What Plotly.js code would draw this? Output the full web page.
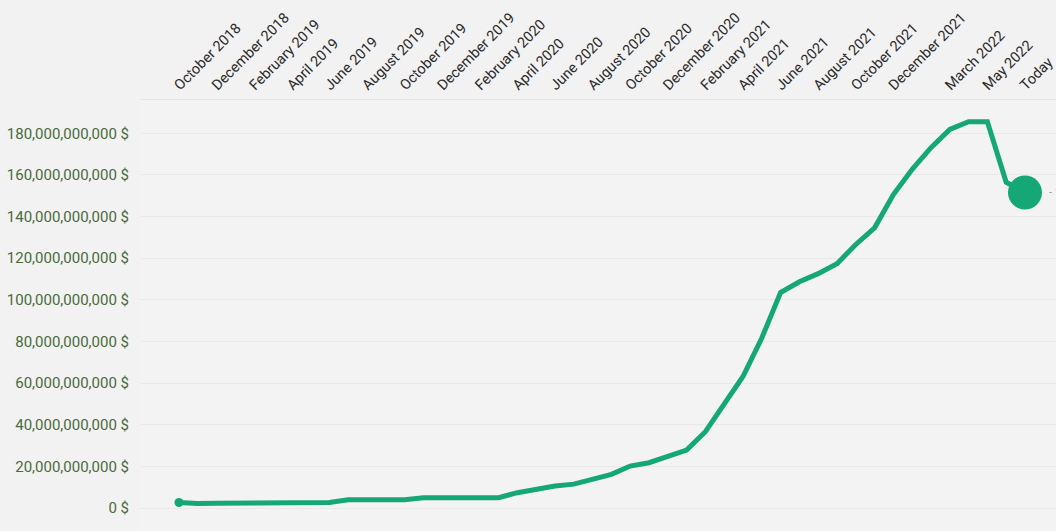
<!DOCTYPE html>
<html>
<head>
<meta charset="utf-8">
<script src="https://cdn.plot.ly/plotly-3.0.1.min.js"></script>
<style>
html,body{margin:0;padding:0;background:#f2f2f2;}
#chart{width:1056px;height:531px;}
</style>
</head>
<body>
<div id="chart"></div>
<script>
const months = [
  "October 2018","November 2018","December 2018",
  "January 2019","February 2019","March 2019","April 2019","May 2019","June 2019",
  "July 2019","August 2019","September 2019","October 2019","November 2019","December 2019",
  "January 2020","February 2020","March 2020","April 2020","May 2020","June 2020",
  "July 2020","August 2020","September 2020","October 2020","November 2020","December 2020",
  "January 2021","February 2021","March 2021","April 2021","May 2021","June 2021",
  "July 2021","August 2021","September 2021","October 2021","November 2021","December 2021",
  "January 2022","February 2022","March 2022","April 2022","May 2022","June 2022",
  "Today"
];
// values in billions of dollars
const valuesBn = [
  2.7, 2.2, 2.3,
  2.4, 2.5, 2.4, 2.5, 2.6, 2.7,
  4.0, 4.1, 4.0, 4.0, 5.0, 4.9,
  5.0, 5.0, 5.0, 7.4, 9.3, 10.6,
  11.5, 13.8, 16.2, 20.2, 21.8, 24.8,
  27.9, 36.7, 49.6, 63.2, 81.7, 103.5,
  108.7, 112.6, 117.4, 126.6, 134.6, 150.6,
  162.7, 173.1, 181.9, 185.6, 185.6, 156.5,
  151.6
];
const tickLabels = [
  "October 2018","December 2018","February 2019","April 2019","June 2019",
  "August 2019","October 2019","December 2019","February 2020","April 2020",
  "June 2020","August 2020","October 2020","December 2020","February 2021",
  "April 2021","June 2021","August 2021","October 2021","December 2021",
  "March 2022","May 2022","Today"
];

const values = valuesBn.map(v => v * 1e9);
const n = values.length;
const markerSizes = values.map((v, i) => i === 0 ? 9 : (i === n - 1 ? 34 : 0));

const lineColor = "#15a776";

const trace = {
  x: months,
  y: values,
  type: "scatter",
  mode: "lines+markers",
  line: {color: lineColor, width: 5, shape: "linear"},
  marker: {color: lineColor, size: markerSizes, opacity: 1, line: {width: 0}},
  opacity: 1,
  hoverinfo: "x+y",
  cliponaxis: false
};

const layout = {
  width: 1056,
  height: 531,
  margin: {l: 141, r: 0, t: 100, b: 0},
  paper_bgcolor: "#f2f2f2",
  plot_bgcolor: "#f3f3f3",
  showlegend: false,
  font: {family: "Roboto, 'Open Sans', sans-serif", size: 15, color: "#333"},
  xaxis: {
    type: "category",
    side: "top",
    range: [-2.02, 46.65],
    tickmode: "array",
    tickvals: tickLabels,
    ticktext: tickLabels,
    tickangle: -45,
    ticklabelshift: -4,
    tickfont: {family: "Roboto, sans-serif", size: 14.5, color: "#2b2b2b"},
    showgrid: false,
    zeroline: false,
    showline: true,
    linecolor: "#e6e6e6",
    linewidth: 1,
    ticks: "",
    automargin: false
  },
  yaxis: {
    range: [-11e9, 196e9],
    dtick: 20e9,
    tick0: 0,
    tickformat: ",d",
    ticksuffix: " $",
    tickfont: {family: "Roboto, sans-serif", size: 15, color: "#4a6a3c"},
    showgrid: true,
    gridcolor: "#e8e8e8",
    gridwidth: 1,
    zeroline: false,
    showline: false,
    ticks: "outside",
    ticklen: 8,
    tickcolor: "rgba(0,0,0,0)",
    automargin: false
  },
  annotations: [{
    x: "Today",
    y: values[n - 1],
    xref: "x",
    yref: "y",
    text: "- 151,600,000,000 $",
    showarrow: false,
    xanchor: "left",
    xshift: 22,
    font: {family: "Roboto, sans-serif", size: 11, color: "#9a9a9a"}
  }]
};

Plotly.newPlot("chart", [trace], layout, {displayModeBar: false, staticPlot: true});
</script>
</body>
</html>
